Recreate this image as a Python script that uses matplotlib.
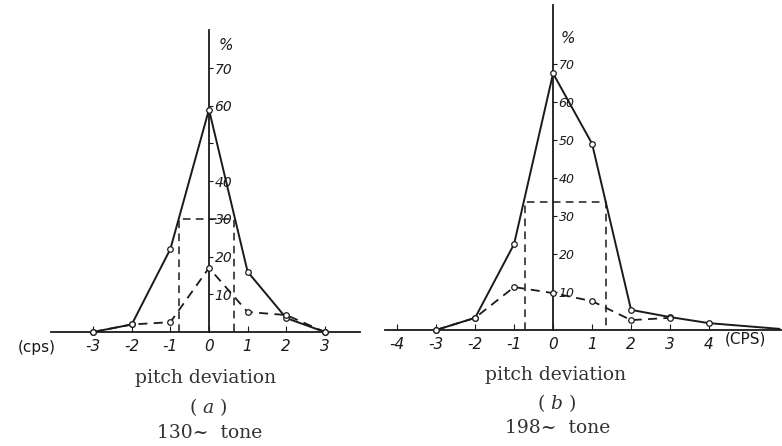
import matplotlib
matplotlib.use("Agg")
import matplotlib.pyplot as plt

plt.rcParams['mathtext.fontset'] = 'dejavuserif'

# panel (a): 130~ tone
x_a = [-3, -2, -1, 0, 1, 2, 3]
solid_a = [0, 2, 22, 59, 16, 3.7, 0]
dashed_a = [0, 2, 2.6, 17, 5.3, 4.5, 0]
box_a = [-0.78, 0.65]   # dashed width marks
level_a = 30
xticks_a = [-3, -2, -1, 0, 1, 2, 3]
yticks_a = [10, 20, 30, 40, 50, 60, 70]
ylabels_a = ['10', '20', '30', '40', '', '60', '70']

# panel (b): 198~ tone
x_b = [-3, -2, -1, 0, 1, 2, 3, 4, 5.8]
solid_b = [0, 3.2, 22.6, 67.5, 49, 5.3, 3.4, 1.8, 0.3]
x_b_dash = [-3, -2, -1, 0, 1, 2, 3]
dashed_b = [0, 3.2, 11.3, 9.7, 7.6, 2.6, 3.2]
box_b = [-0.72, 1.36]
level_b = 33.7
xticks_b = [-4, -3, -2, -1, 0, 1, 2, 3, 4]
yticks_b = [10, 20, 30, 40, 50, 60, 70]
ylabels_b = ['10', '20', '30', '40', '50', '60', '70']

INK = '#1a1a1a'
W, H = 782, 446


def px_axes(fig, left, right, base, top):
    return fig.add_axes([left / W, (H - base) / H, (right - left) / W, (base - top) / H])


def draw_panel(ax, xs, solid, xd, dashed, box, level, xticks, yticks, ylabels, ylab_size, n_marks):
    for side in ['top', 'left']:
        ax.spines[side].set_visible(False)
    ax.spines['right'].set_position(('data', 0))
    ax.spines['bottom'].set_linewidth(1.3)
    ax.spines['right'].set_linewidth(1.3)
    ax.spines['bottom'].set_color(INK)
    ax.spines['right'].set_color(INK)
    ax.yaxis.tick_right()
    ax.set_yticks(yticks)
    ax.set_yticklabels(ylabels)
    ax.tick_params(axis='y', direction='out', length=3, pad=1, labelsize=ylab_size, colors=INK)
    ax.set_xticks(xticks)
    ax.set_xticklabels([str(t) for t in xticks])
    ax.tick_params(axis='x', direction='in', length=4, pad=5, labelsize=11, colors=INK)
    for lab in ax.get_xticklabels() + ax.get_yticklabels():
        lab.set_fontstyle('italic')

    ax.plot(xs, solid, '-', color=INK, lw=1.4, marker='o', ms=4, mfc='white', mew=0.9,
            markevery=list(range(n_marks)), clip_on=False, zorder=3)
    ax.plot(xd, dashed, '--', color=INK, lw=1.3, dashes=(5, 3.5), marker='o', ms=4,
            mfc='white', mew=0.9, clip_on=False, zorder=3)
    ax.plot([box[0], box[0], box[1], box[1]], [0, level, level, 0], '--', color=INK,
            lw=1.1, dashes=(5, 3.5), zorder=2)


fig = plt.figure(figsize=(W / 100, H / 100), dpi=100)

ax_a = px_axes(fig, 51, 360, 332, 30)
ax_a.set_xlim(-4.09, 3.91)
ax_a.set_ylim(0, 80.1)
draw_panel(ax_a, x_a, solid_a, x_a, dashed_a, box_a, level_a, xticks_a, yticks_a, ylabels_a, 10, 7)
ax_a.text(0.25, 76, '%', fontsize=11, style='italic', color=INK, va='center')
ax_a.text(-4.95, -4.2, '(cps)', fontsize=11, color=INK, va='center', ha='left')

ax_b = px_axes(fig, 385, 782, 330, 5)
ax_b.set_xlim(-4.31, 5.87)
ax_b.set_ylim(0, 85.5)
draw_panel(ax_b, x_b, solid_b, x_b_dash, dashed_b, box_b, level_b, xticks_b, yticks_b, ylabels_b, 9, 8)
ax_b.text(0.2, 76.8, '%', fontsize=11, style='italic', color=INK, va='center')
ax_b.text(4.4, -2.3, '(CPS)', fontsize=11, color=INK, va='center', ha='left')

serif = dict(family='DejaVu Serif', fontsize=13.5, color='#333333', ha='center', va='center')
fig.text(206 / W, 1 - 378 / H, 'pitch deviation', **serif)
fig.text(208 / W, 1 - 407 / H, '( $a$ )', **serif)
fig.text(210 / W, 1 - 433 / H, '130~  tone', **serif)
fig.text(556 / W, 1 - 375 / H, 'pitch deviation', **serif)
fig.text(557 / W, 1 - 403 / H, '( $b$ )', **serif)
fig.text(558 / W, 1 - 428 / H, '198~  tone', **serif)

fig.savefig('out.png', dpi=100)
